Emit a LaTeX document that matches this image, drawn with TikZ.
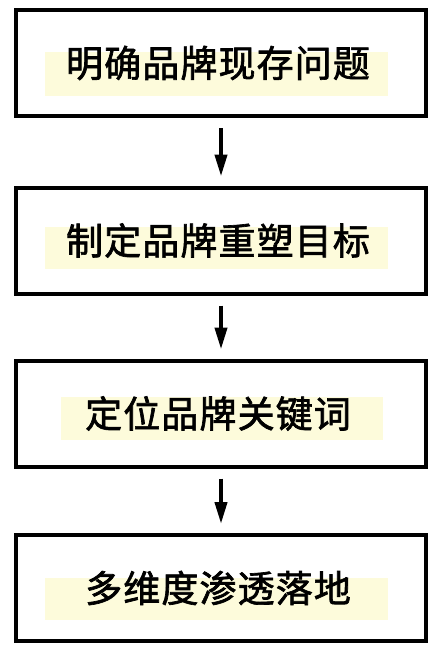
\documentclass[tikz,border=0pt]{standalone}
\usepackage{fontspec}
\newfontfamily\cjk{Noto Sans CJK SC}[LetterSpace=3,FakeBold=1.8]
\usetikzlibrary{arrows.meta}
\definecolor{hl}{HTML}{FDFBDB}
\tikzset{
  stepbox/.style={draw=black,line width=4pt,minimum width=410pt,minimum height=106pt,inner sep=0pt,font=\cjk\fontsize{37}{37}\selectfont},
  flow/.style={line width=4pt,-{Triangle[length=22pt,width=12pt]},shorten <=10pt,shorten >=9pt}
}
\begin{document}
\begin{tikzpicture}[x=1pt,y=-1pt]
\useasboundingbox[fill=white] (0,0) rectangle (442,654);
\fill[hl] (45,52) rectangle (388,96);
\fill[hl] (45,227) rectangle (388,269);
\fill[hl] (61,397) rectangle (383,440);
\fill[hl] (45,578) rectangle (388,620);
\node[stepbox] (b1) at (221,63) {\hspace*{-6pt}明确品牌现存问题};
\node[stepbox] (b2) at (221,240.5) {\hspace*{-6pt}制定品牌重塑目标};
\node[stepbox] (b3) at (221,413.5) {\hspace*{-6pt}定位品牌关键词};
\node[stepbox] (b4) at (221,588) {\hspace*{-6pt}多维度渗透落地};
\draw[flow] (b1) -- (b2);
\draw[flow] (b2) -- (b3);
\draw[flow] (b3) -- (b4);
\end{tikzpicture}
\end{document}
